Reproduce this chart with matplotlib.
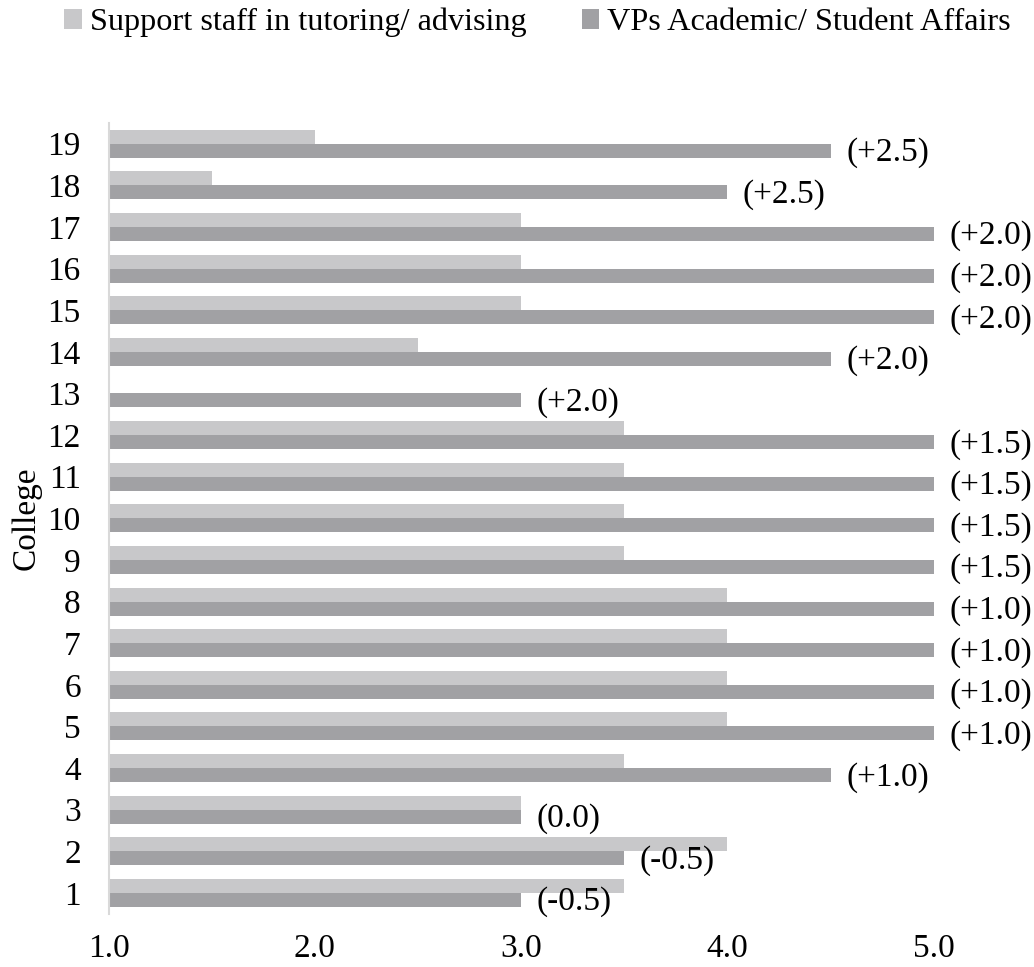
import matplotlib
matplotlib.use('Agg')
import matplotlib.pyplot as plt
import numpy as np

plt.rcParams['font.family'] = ['Liberation Serif', 'DejaVu Serif']

colleges = list(range(1, 20))
support = [3.5, 4.0, 3.0, 3.5, 4.0, 4.0, 4.0, 4.0, 3.5, 3.5, 3.5, 3.5, 1.0, 2.5, 3.0, 3.0, 3.0, 1.5, 2.0]
vps = [3.0, 3.5, 3.0, 4.5, 5.0, 5.0, 5.0, 5.0, 5.0, 5.0, 5.0, 5.0, 3.0, 4.5, 5.0, 5.0, 5.0, 4.0, 4.5]
diff_labels = ['(-0.5)', '(-0.5)', '(0.0)', '(+1.0)', '(+1.0)', '(+1.0)', '(+1.0)', '(+1.0)',
               '(+1.5)', '(+1.5)', '(+1.5)', '(+1.5)', '(+2.0)', '(+2.0)', '(+2.0)', '(+2.0)',
               '(+2.0)', '(+2.5)', '(+2.5)']
xticks = [1.0, 2.0, 3.0, 4.0, 5.0]

light = '#c8c8ca'
dark = '#a1a1a4'

fig = plt.figure(figsize=(10.34, 9.67), dpi=100)
ax = fig.add_axes([0.105, 0.055, 0.798, 0.818])

y = np.array(colleges)
h = 0.336
base = 1.0
ax.barh(y + h / 2, np.array(support) - base, left=base, height=h, color=light,
        label='Support staff in tutoring/ advising')
ax.barh(y - h / 2, np.array(vps) - base, left=base, height=h, color=dark,
        label='VPs Academic/ Student Affairs')

for yi, v, lab in zip(y, vps, diff_labels):
    ax.text(v + 0.075, yi - h / 2 - 0.05, lab, va='center', ha='left', fontsize=24, clip_on=False)

ax.set_xlim(1.0, 5.0)
ax.set_ylim(0.5, 19.5)
ax.set_xticks(xticks)
ax.set_xticklabels(['%.1f' % t for t in xticks], fontsize=24)
ax.set_yticks(colleges)
ax.set_yticklabels([str(c) for c in colleges], fontsize=24)
ax.tick_params(axis='y', length=0, pad=20)
ax.tick_params(axis='x', length=0, pad=14)
for s in ['top', 'right', 'bottom']:
    ax.spines[s].set_visible(False)
ax.spines['left'].set_color('#d9d9d9')
ax.spines['left'].set_linewidth(1.5)
ax.set_ylabel('College', fontsize=24, labelpad=4)

fig.legend(loc='upper center', bbox_to_anchor=(0.52, 1.022), ncol=2, frameon=False,
           fontsize=23.2, handlelength=0.55, handleheight=0.55, handletextpad=0.25,
           columnspacing=1.7)

fig.savefig('out.png', dpi=100)
